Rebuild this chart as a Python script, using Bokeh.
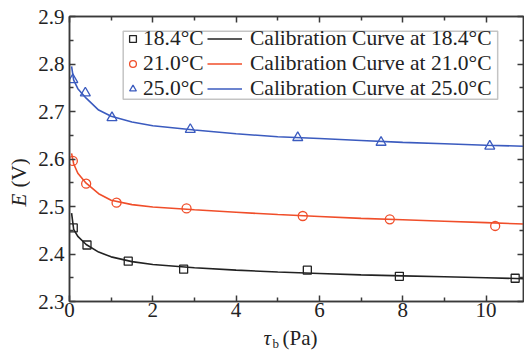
from math import pi
from bokeh.plotting import figure
from bokeh.layouts import column, row
from bokeh.models import (Range1d, LinearAxis, FixedTicker, Legend, LegendItem,
                          BoxAnnotation, Label, CustomJSTickFormatter)
from bokeh.embed import file_html
from bokeh.resources import INLINE

# ---- data ----
tau_184 = [0.09, 0.42, 1.41, 2.74, 5.71, 7.92, 10.70]
E_184 = [2.455, 2.419, 2.385, 2.368, 2.366, 2.353, 2.349]
tau_210 = [0.08, 0.40, 1.13, 2.81, 5.60, 7.69, 10.22]
E_210 = [2.596, 2.548, 2.508, 2.496, 2.480, 2.473, 2.459]
tau_250 = [0.08, 0.38, 1.02, 2.90, 5.48, 7.48, 10.09]
E_250 = [2.767, 2.739, 2.687, 2.662, 2.645, 2.635, 2.627]

curve_tau = [0.05, 0.1, 0.2, 0.4, 0.7, 1, 1.5, 2, 3, 4, 5, 6, 7, 8, 9, 10, 10.9]
curve_184 = [2.486, 2.452, 2.437, 2.420, 2.404, 2.394, 2.384, 2.378, 2.371, 2.366,
             2.362, 2.359, 2.356, 2.354, 2.352, 2.350, 2.348]
curve_210 = [2.612, 2.590, 2.570, 2.549, 2.527, 2.513, 2.504, 2.499, 2.493, 2.488,
             2.483, 2.479, 2.475, 2.472, 2.469, 2.466, 2.463]
curve_250 = [2.795, 2.766, 2.748, 2.728, 2.703, 2.690, 2.678, 2.670, 2.661, 2.653,
             2.647, 2.643, 2.639, 2.635, 2.632, 2.629, 2.627]

point_labels = ["18.4°C", "21.0°C", "25.0°C"]
curve_labels = ["Calibration Curve at 18.4°C", "Calibration Curve at 21.0°C",
                "Calibration Curve at 25.0°C"]

x_ticks = [0, 2, 4, 6, 8, 10]
x_minor = [1, 3, 5, 7, 9]
y_ticks = [2.3, 2.4, 2.5, 2.6, 2.7, 2.8, 2.9]
y_minor = [2.35, 2.45, 2.55, 2.65, 2.75, 2.85]

# ---- styles ----
FONT = "Liberation Serif"
AXC = "#3a3a3a"
TXT = "#222222"
C_BLACK = "#222222"
C_RED = "#f04e2a"
C_BLUE = "#3b5bbf"

# ---- main plot ----
p = figure(width=494, height=326, output_backend="svg", toolbar_location=None,
           x_range=Range1d(0, 10.9), y_range=Range1d(2.3, 2.9),
           min_border_left=39, min_border_right=1, min_border_top=16,
           min_border_bottom=25)
p.xgrid.visible = False
p.ygrid.visible = False
p.outline_line_color = AXC
p.outline_line_width = 1.5
p.background_fill_color = "white"
p.border_fill_color = "white"

p.add_layout(LinearAxis(), "right")
p.add_layout(LinearAxis(), "above")

blank = CustomJSTickFormatter(code="return ''")
for ax in p.xaxis:
    ax.ticker = FixedTicker(ticks=x_ticks, minor_ticks=x_minor)
for ax in p.yaxis:
    ax.ticker = FixedTicker(ticks=y_ticks, minor_ticks=y_minor)
for ax in p.axis:
    ax.axis_line_color = AXC
    ax.axis_line_width = 1.5
    ax.major_tick_in = 6
    ax.major_tick_out = 0
    ax.minor_tick_in = 4
    ax.minor_tick_out = 0
    ax.major_tick_line_color = AXC
    ax.minor_tick_line_color = AXC
    ax.major_tick_line_width = 1.5
    ax.minor_tick_line_width = 1.5
    ax.major_label_text_font = FONT
    ax.major_label_text_font_size = "21px"
    ax.major_label_text_color = TXT
p.below[0].major_label_standoff = 1
p.left[0].major_label_standoff = 5
for ax in (p.right[0], p.above[0]):
    ax.formatter = blank
    ax.major_label_standoff = 0

# ---- curves and points ----
l1 = p.line(curve_tau, curve_184, line_color=C_BLACK, line_width=1.6)
l2 = p.line(curve_tau, curve_210, line_color=C_RED, line_width=1.6)
l3 = p.line(curve_tau, curve_250, line_color=C_BLUE, line_width=1.6)
s1 = p.scatter(tau_184, E_184, marker="square", size=8, fill_color=None,
               line_color=C_BLACK, line_width=1.3)
s2 = p.scatter(tau_210, E_210, marker="circle", size=9, fill_color=None,
               line_color=C_RED, line_width=1.3)
s3 = p.scatter(tau_250, E_250, marker="triangle", size=10, fill_color=None,
               line_color=C_BLUE, line_width=1.3)

# ---- legend frame and two legend columns ----
box = BoxAnnotation(left=1.289, right=10.28, bottom=2.726, top=2.869,
                    fill_color="white", fill_alpha=1.0,
                    line_color=AXC, line_width=1.5)
p.add_layout(box)

leg_common = dict(orientation="vertical", glyph_height=21, label_height=21,
                  spacing=-7, padding=0, margin=0,
                  label_text_font=FONT, label_text_font_size="21.5px",
                  label_text_color=TXT,
                  background_fill_alpha=0, border_line_alpha=0)
legA = Legend(items=[LegendItem(label=lab, renderers=[r])
                     for lab, r in zip(point_labels, [s1, s2, s3])],
              location=(55, 200), glyph_width=17, label_standoff=2, **leg_common)
legB = Legend(items=[LegendItem(label=lab, renderers=[r])
                     for lab, r in zip(curve_labels, [l1, l2, l3])],
              location=(138, 200), glyph_width=35, label_standoff=8, **leg_common)
p.add_layout(legA)
p.add_layout(legB)

# ---- axis titles, in text-only panels beside the plot ----
def text_panel(w, h):
    f = figure(frame_width=w, frame_height=h, output_backend="svg",
               toolbar_location=None, title=None, x_axis_location=None,
               y_axis_location=None, min_border=0)
    f.outline_line_color = None
    f.background_fill_color = "white"
    f.border_fill_color = "white"
    f.grid.visible = False
    return f

lab_common = dict(x_units="screen", y_units="screen", text_font=FONT,
                  text_color=TXT, text_baseline="middle", text_align="left")

left_panel = text_panel(30, 326)
left_panel.add_layout(Label(x=18, y=136, text="E", angle=pi / 2,
                            text_font_size="21px", text_font_style="italic",
                            **lab_common))
left_panel.add_layout(Label(x=18, y=155, text="(V)", angle=pi / 2,
                            text_font_size="21px", **lab_common))

bottom_panel = text_panel(524, 24)
bottom_panel.add_layout(Label(x=263, y=12.5, text="τ", text_font_size="21px",
                              text_font_style="italic", **lab_common))
bottom_panel.add_layout(Label(x=272, y=7.2, text="b", text_font_size="13px",
                              **lab_common))
bottom_panel.add_layout(Label(x=282, y=12.5, text="(Pa)", text_font_size="21px",
                              **lab_common))

layout = column(row(left_panel, p, spacing=0), bottom_panel, spacing=0)

open("out.html", "w").write(file_html(layout, INLINE))
